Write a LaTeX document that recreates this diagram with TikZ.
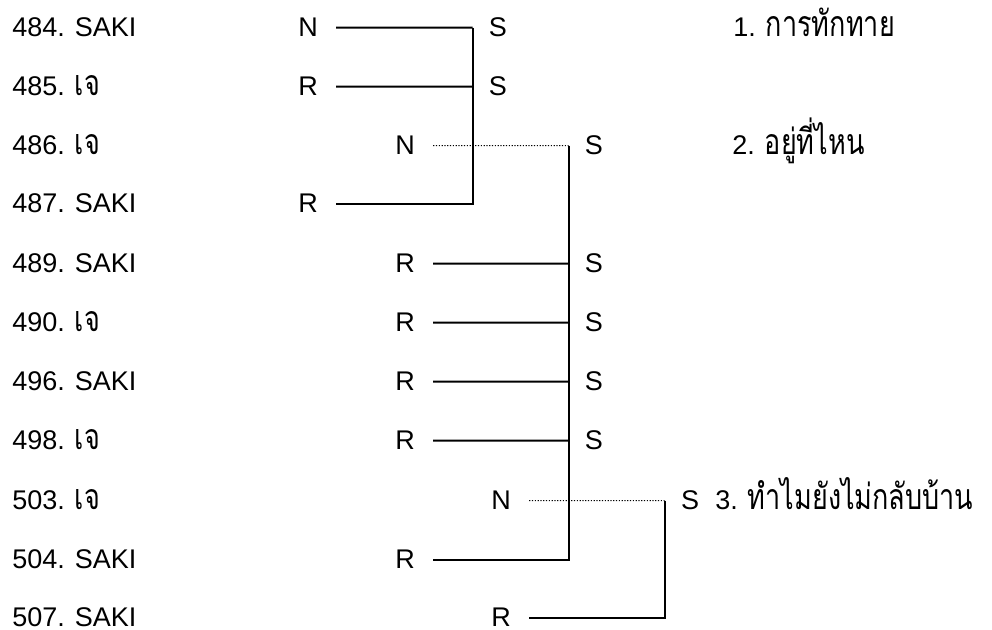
\documentclass[tikz,border=0pt]{standalone}
\usepackage{graphicx}
\usepackage{fontspec}
\setmainfont{Liberation Sans}
\newfontfamily\thaifont[Script=Thai]{Loma}
\newcommand{\thai}[1]{\scalebox{1}[1.32]{\thaifont #1}}
\usetikzlibrary{positioning}

\begin{document}
\begin{tikzpicture}[
    x=0.5pt, y=-0.5pt,
    every node/.style={font=\fontsize{13.5}{16}\selectfont},
    turn/.style={anchor=base west, inner sep=0pt},
    move/.style={anchor=base, inner ysep=0pt, inner xsep=9pt},
    resp/.style={anchor=base, inner ysep=0pt, inner xsep=8pt},
    topic/.style={anchor=base west, inner sep=0pt},
    link/.style={line width=1pt},
    opener/.style={line width=0.5pt, dash pattern=on 0.6pt off 0.8pt},
]
\useasboundingbox (0,0) rectangle (992,630);

% ── turn numbers ──
\node[turn] (t484) at (12,37)  {484. SAKI};
\node[turn] (t485) at (12,96)  {485. \thai{เจ}};
\node[turn] (t486) at (12,155) {486. \thai{เจ}};
\node[turn] (t487) at (12,213) {487. SAKI};
\node[turn] (t489) at (12,273) {489. SAKI};
\node[turn] (t490) at (12,332) {490. \thai{เจ}};
\node[turn] (t496) at (12,391) {496. SAKI};
\node[turn] (t498) at (12,450) {498. \thai{เจ}};
\node[turn] (t503) at (12,510) {503. \thai{เจ}};
\node[turn] (t504) at (12,569) {504. SAKI};
\node[turn] (t507) at (12,627) {507. SAKI};

% ── moves ──
\node[move] (m484) at (308,37)  {N};
\node[move] (m485) at (308,96)  {R};
\node[move] (m486) at (405,155) {N};
\node[move] (m487) at (308,213) {R};
\node[move] (m489) at (405,273) {R};
\node[move] (m490) at (405,332) {R};
\node[move] (m496) at (405,391) {R};
\node[move] (m498) at (405,450) {R};
\node[move] (m503) at (501,510) {N};
\node[move] (m504) at (405,569) {R};
\node[move] (m507) at (501,627) {R};

% ── responses ──
\node[resp] (s484) at (498,37)  {S};
\node[resp] (s485) at (498,96)  {S};
\node[resp] (s486) at (594,155) {S};
\node[resp] (s489) at (594,273) {S};
\node[resp] (s490) at (594,332) {S};
\node[resp] (s496) at (594,391) {S};
\node[resp] (s498) at (594,450) {S};
\node[resp] (s503) at (690,510) {S};

% ── topics ──
\node[topic] (top1) at (733,37)  {1. \thai{การทักทาย}};
\node[topic] (top2) at (732,155) {2. \thai{อยู่ที่ไหน}};
\node[topic] (top3) at (715,510) {3. \thai{ทำไมยังไม่กลับบ้าน}};

% ── exchange 1 ──
\draw[link] (m484.east) -- (s484.west);
\draw[link] (m485.east) -- (s485.west);
\draw[link] (s484.west) |- (m487.east);

% ── exchange 2 ──
\draw[opener] (m486.east) -- (s486.west);
\draw[link] (s486.west) |- (m504.east);
\draw[link] (m489.east) -- (s489.west);
\draw[link] (m490.east) -- (s490.west);
\draw[link] (m496.east) -- (s496.west);
\draw[link] (m498.east) -- (s498.west);

% ── exchange 3 ──
\draw[opener] (m503.east) -- (s503.west);
\draw[link] (s503.west) |- (m507.east);

\end{tikzpicture}
\end{document}
